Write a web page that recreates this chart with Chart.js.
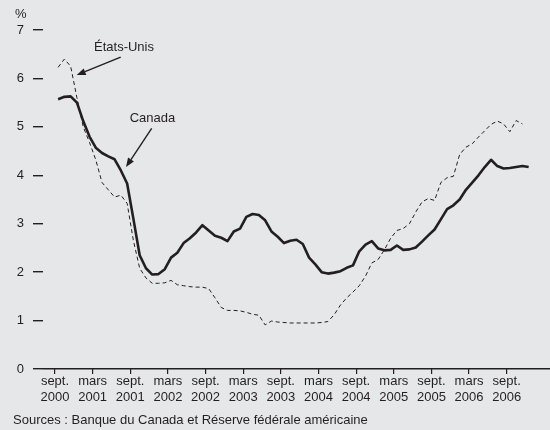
<!DOCTYPE html>
<html><head><meta charset="utf-8">
<script src="https://cdn.jsdelivr.net/npm/chart.js@4"></script>
<style>html,body{margin:0;padding:0;background:#e6e7e8;}#wrap{width:550px;height:430px;position:relative}</style>
</head><body><div id="wrap"><canvas id="c" width="550" height="430"></canvas></div>
<script>
const categories = [
 '2000-09','2000-10','2000-11','2000-12',
 '2001-01','2001-02','2001-03','2001-04','2001-05','2001-06','2001-07','2001-08','2001-09','2001-10','2001-11','2001-12',
 '2002-01','2002-02','2002-03','2002-04','2002-05','2002-06','2002-07','2002-08','2002-09','2002-10','2002-11','2002-12',
 '2003-01','2003-02','2003-03','2003-04','2003-05','2003-06','2003-07','2003-08','2003-09','2003-10','2003-11','2003-12',
 '2004-01','2004-02','2004-03','2004-04','2004-05','2004-06','2004-07','2004-08','2004-09','2004-10','2004-11','2004-12',
 '2005-01','2005-02','2005-03','2005-04','2005-05','2005-06','2005-07','2005-08','2005-09','2005-10','2005-11','2005-12',
 '2006-01','2006-02','2006-03','2006-04','2006-05','2006-06','2006-07','2006-08','2006-09','2006-10','2006-11','2006-12'
];
const canada = [
 5.57,5.62,5.63,5.5,5.12,4.8,4.57,4.46,4.39,4.33,
 4.1,3.83,3.1,2.35,2.08,1.95,1.96,2.06,2.3,2.4,
 2.6,2.7,2.82,2.97,2.86,2.75,2.71,2.64,2.84,2.9,
 3.14,3.2,3.18,3.07,2.84,2.73,2.6,2.65,2.67,2.58,
 2.3,2.16,2.0,1.97,1.99,2.02,2.09,2.14,2.43,2.57,
 2.64,2.49,2.45,2.46,2.55,2.46,2.47,2.51,2.63,2.76,
 2.88,3.09,3.3,3.38,3.5,3.7,3.85,4.0,4.17,4.32,
 4.19,4.14,4.15,4.17,4.19,4.17
];
const usa = [
 6.23,6.4,6.25,5.6,5.0,4.68,4.32,3.85,3.7,3.55,
 3.59,3.42,2.65,2.08,1.88,1.77,1.77,1.78,1.83,1.74,
 1.72,1.7,1.69,1.69,1.66,1.47,1.27,1.21,1.21,1.2,
 1.17,1.13,1.11,0.91,0.99,0.97,0.96,0.95,0.95,0.95,
 0.95,0.95,0.96,0.98,1.12,1.32,1.47,1.59,1.72,1.92,
 2.19,2.26,2.46,2.7,2.86,2.9,3.0,3.24,3.45,3.52,
 3.48,3.85,3.95,3.98,4.43,4.58,4.65,4.79,4.92,5.05,
 5.12,5.06,4.9,5.13,5.06
];
const yTicks = [0,1,2,3,4,5,6,7];
const tickLabels = ['sept. 2000','mars 2001','sept. 2001','mars 2002','sept. 2002','mars 2003','sept. 2003',
 'mars 2004','sept. 2004','mars 2005','sept. 2005','mars 2006','sept. 2006'];
const seriesNames = ['Canada','États-Unis'];
const unitLabel = '%';
const sourceText = 'Sources : Banque du Canada et Réserve fédérale américaine';

const MONTHS = {'janv.':1,'févr.':2,'mars':3,'avr.':4,'mai':5,'juin':6,'juil.':7,'août':8,'sept.':9,'oct.':10,'nov.':11,'déc.':12};
function catPos(c){const p=c.split('-').map(Number);return p[0]*12+(p[1]-1)+0.5;}
function tickPos(t){const p=t.split(' ');return Number(p[1])*12+MONTHS[p[0]]-1;}
const base = tickPos(tickLabels[0]);
const tickVals = tickLabels.map(tickPos);

const INK = '#231f20';
const FONT = "'Liberation Sans', Arial, Helvetica, sans-serif";

// annotation placement (months from first tick, value units)
const notes = [
  {text: seriesNames[1], at:[11.0,6.63], from:[10.47,6.44], to:[3.46,6.07]},
  {text: seriesNames[0], at:[15.54,5.18], from:[15.41,4.97], to:[11.32,4.17]}
];

const bgPlugin = {
  id:'bg',
  beforeDraw(chart){const c=chart.ctx;c.save();c.fillStyle='#e6e7e8';c.fillRect(0,0,chart.width,chart.height);c.restore();}
};
const notePlugin = {
  id:'notes',
  afterDatasetsDraw(chart){
    const c=chart.ctx, xs=chart.scales.x, ys=chart.scales.y;
    const px=v=>xs.getPixelForValue(base+v), py=v=>ys.getPixelForValue(v);
    c.save();
    c.fillStyle=INK; c.strokeStyle=INK;
    c.font='13px '+FONT; c.textAlign='center'; c.textBaseline='middle';
    notes.forEach(n=>{
      c.fillText(n.text, px(n.at[0]), py(n.at[1]));
      const x1=px(n.from[0]), y1=py(n.from[1]), x2=px(n.to[0]), y2=py(n.to[1]);
      const a=Math.atan2(y2-y1,x2-x1), L=9, W=3.5;
      const bx=x2-L*Math.cos(a), by=y2-L*Math.sin(a);
      c.lineWidth=1.4; c.beginPath(); c.moveTo(x1,y1); c.lineTo(bx,by); c.stroke();
      c.beginPath(); c.moveTo(x2,y2);
      c.lineTo(bx+W*Math.sin(a), by-W*Math.cos(a));
      c.lineTo(bx-W*Math.sin(a), by+W*Math.cos(a));
      c.closePath(); c.fill();
    });
    c.textAlign='left';
    c.fillText(unitLabel, 15, 14.5);
    c.fillText(sourceText, 13, 420);
    c.restore();
  }
};

new Chart(document.getElementById('c'), {
  type:'line',
  data:{datasets:[
    {label:seriesNames[1], data:usa.map((v,i)=>({x:catPos(categories[i]),y:v})),
     borderColor:INK, borderWidth:1, borderDash:[4,3], pointRadius:0, tension:0, fill:false},
    {label:seriesNames[0], data:canada.map((v,i)=>({x:catPos(categories[i]),y:v})),
     borderColor:INK, borderWidth:2.6, pointRadius:0, tension:0, fill:false, borderJoinStyle:'round'}
  ]},
  options:{
    responsive:false, devicePixelRatio:1, animation:false,
    layout:{padding:{top:30,left:0,right:0,bottom:0}},
    plugins:{legend:{display:false}, tooltip:{enabled:false}},
    scales:{
      x:{type:'linear', min:base-1.91, max:base+78.9,
        afterBuildTicks(s){s.ticks=tickVals.map(v=>({value:v}));},
        afterFit(s){s.height=61;},
        border:{display:false},
        grid:{drawOnChartArea:false, drawTicks:true, tickLength:5, color:INK, lineWidth:1.2},
        ticks:{autoSkip:false, maxRotation:0, minRotation:0, padding:0, color:INK,
          font:{family:FONT,size:13,lineHeight:1.2},
          callback(v,i){return tickLabels[i].split(' ');}}
      },
      y:{min:0,max:7,
        afterBuildTicks(s){s.ticks=yTicks.map(v=>({value:v}));},
        afterFit(s){s.width=43;},
        border:{display:false},
        grid:{drawOnChartArea:true, drawTicks:true, tickLength:10,
          color:ctx=>ctx.tick&&ctx.tick.value===0?INK:'rgba(0,0,0,0)', tickColor:INK, lineWidth:1.4},
        ticks:{padding:9,color:INK,font:{family:FONT,size:13}}
      }
    }
  },
  plugins:[bgPlugin, notePlugin]
});
</script></body></html>
